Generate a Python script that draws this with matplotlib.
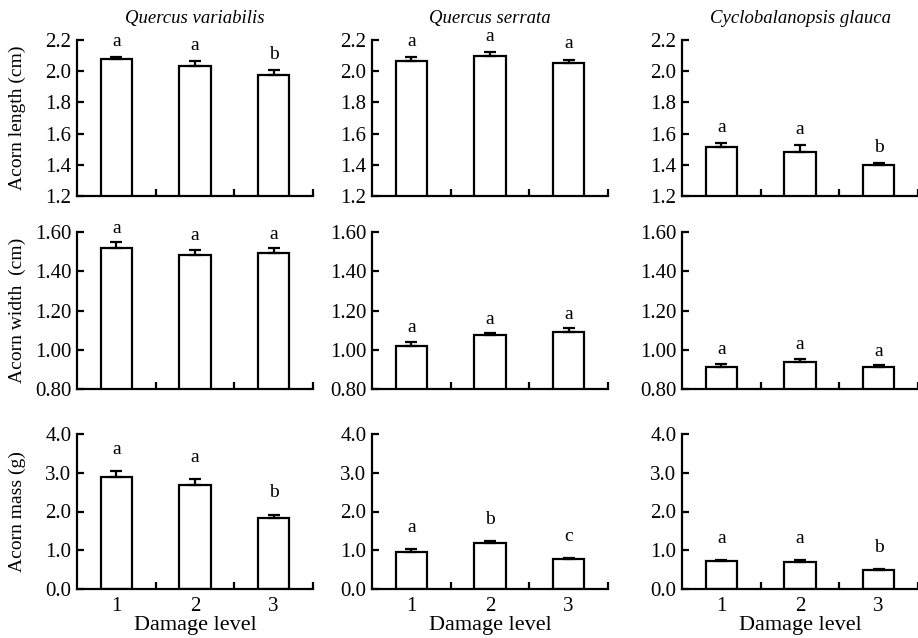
import matplotlib
matplotlib.use('Agg')
import matplotlib.pyplot as plt
import numpy as np

plt.rcParams['font.family'] = ['Liberation Serif', 'DejaVu Serif']

species = ['Quercus variabilis', 'Quercus serrata', 'Cyclobalanopsis glauca']
levels = [1, 2, 3]

length_mean = [[2.078, 2.031, 1.975], [2.065, 2.099, 2.055], [1.514, 1.481, 1.400]]
length_se = [[0.015, 0.033, 0.035], [0.023, 0.021, 0.020], [0.024, 0.044, 0.010]]
length_letters = [['a', 'a', 'b'], ['a', 'a', 'a'], ['a', 'a', 'b']]

width_mean = [[1.519, 1.484, 1.493], [1.020, 1.075, 1.092], [0.912, 0.936, 0.912]]
width_se = [[0.028, 0.026, 0.024], [0.019, 0.008, 0.018], [0.016, 0.019, 0.008]]
width_letters = [['a', 'a', 'a'], ['a', 'a', 'a'], ['a', 'a', 'a']]

mass_mean = [[2.90, 2.69, 1.83], [0.96, 1.19, 0.78], [0.735, 0.69, 0.50]]
mass_se = [[0.15, 0.14, 0.09], [0.06, 0.05, 0.01], [0.01, 0.06, 0.01]]
mass_letters = [['a', 'a', 'b'], ['a', 'b', 'c'], ['a', 'a', 'b']]

# mean, se, letters, label, limits, tick step, format, letter gap (fraction of range)
rows = [
    (length_mean, length_se, length_letters, 'Acorn length (cm)', (1.2, 2.2), 0.2, '%.1f', 0.10),
    (width_mean, width_se, width_letters, 'Acorn width  (cm)', (0.8, 1.6), 0.2, '%.2f', 0.09),
    (mass_mean, mass_se, mass_letters, 'Acorn mass (g)', (0.0, 4.0), 1.0, '%.1f', 0.14),
]

W, H = 918, 638
fig = plt.figure(figsize=(W / 100, H / 100), dpi=100)

col_left = [77, 372, 682]
ax_w = 236
row_bottom = [196, 389, 589]
ax_h = [156, 157, 155]

for r, (means, ses, letters, ylab, ylim, step, fmt, gap) in enumerate(rows):
    for c in range(3):
        ax = fig.add_axes([col_left[c] / W, 1 - row_bottom[r] / H, ax_w / W, ax_h[r] / H])
        x = np.array(levels)
        ax.bar(x, means[c], width=0.4, color='white', edgecolor='black', linewidth=1.6, zorder=2)
        ax.errorbar(x, means[c], yerr=[np.zeros(3), ses[c]], fmt='none', ecolor='black',
                    elinewidth=1.6, capsize=4, capthick=1.6, zorder=3)
        rng = ylim[1] - ylim[0]
        for xi, m, e, lt in zip(x, means[c], ses[c], letters[c]):
            ax.text(xi, m + e + gap * rng, lt, ha='center', va='center', fontsize=14)
        ax.set_xlim(0.5, 3.5)
        ax.set_ylim(*ylim)
        ax.set_yticks(np.arange(ylim[0], ylim[1] + step / 2, step))
        ax.yaxis.set_major_formatter(matplotlib.ticker.FormatStrFormatter(fmt))
        ax.set_xticks([1.5, 2.5, 3.5])
        ax.set_xticklabels([])
        ax.tick_params(axis='both', direction='in', length=5, width=1.6, labelsize=15, pad=4)
        for s in ['top', 'right']:
            ax.spines[s].set_visible(False)
        for s in ['left', 'bottom']:
            ax.spines[s].set_linewidth(1.6)
        if r == 2:
            ax.set_xticks(levels, minor=True)
            ax.set_xticklabels([str(v) for v in levels], minor=True)
            ax.tick_params(axis='x', which='minor', length=0, labelsize=15, pad=6)
            ax.set_xlabel('Damage level', fontsize=16, labelpad=0)
        if r == 0:
            ax.set_title(species[c], style='italic', fontsize=13.5, pad=12)
        if c == 0:
            ax.set_ylabel(ylab, fontsize=14)
            ax.yaxis.set_label_coords(-0.215, 0.5)

fig.savefig('out.png', dpi=100)
